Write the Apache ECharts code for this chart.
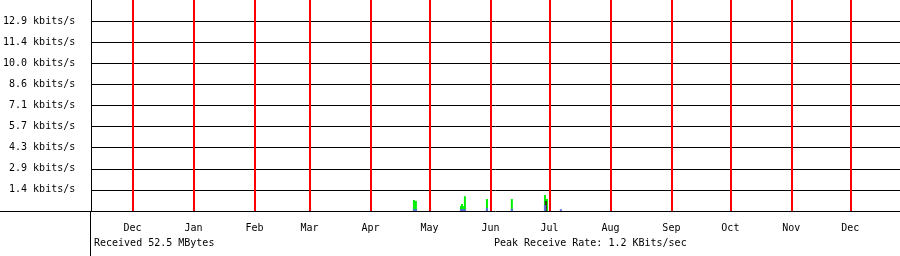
<!DOCTYPE html>
<html>
<head>
<meta charset="utf-8">
<script src="https://cdn.jsdelivr.net/npm/echarts@6/dist/echarts.min.js"></script>
<style>
html,body{margin:0;padding:0;background:#fff;}
#chart{width:900px;height:256px;}
</style>
</head>
<body>
<div id="chart"></div>
<script>
// ---- data ----
const monthLabels = ['Dec','Jan','Feb','Mar','Apr','May','Jun','Jul','Aug','Sep','Oct','Nov','Dec'];
const monthStarts = ['2009-12-01 00:00','2010-01-01 00:00','2010-02-01 00:00','2010-03-01 00:00','2010-04-01 00:00','2010-05-01 00:00','2010-06-01 00:00','2010-07-01 00:00','2010-08-01 00:00','2010-09-01 00:00','2010-10-01 00:00','2010-11-01 00:00','2010-12-01 00:00'];
const yTickLabels = ['1.4','2.9','4.3','5.7','7.1','8.6','10.0','11.4','12.9'];

const rxTimes  = ['2010-04-23 02:00','2010-04-24 02:00','2010-05-17 00:00','2010-05-17 12:00','2010-05-18 00:00','2010-05-19 00:00','2010-05-30 05:00','2010-06-11 21:00','2010-06-28 17:00','2010-06-29 17:00'];
const rxValues = [0.75, 0.68, 0.34, 0.47, 0.34, 1.00, 0.81, 0.81, 1.08, 0.81];

const txTimes  = ['2010-04-23 02:00','2010-04-24 02:00','2010-05-17 00:00','2010-05-17 12:00','2010-05-18 00:00','2010-05-19 00:00','2010-05-30 05:00','2010-06-11 21:00','2010-06-28 17:00','2010-07-06 19:00'];
const txValues = [0.12, 0.12, 0.12, 0.12, 0.12, 0.12, 0.20, 0.15, 0.40, 0.12];

const otherTimes  = ['2010-06-29 05:00'];
const otherValues = [0.68];

const footLeft  = 'Received 52.5 MBytes';
const footRight = 'Peak Receive Rate: 1.2 KBits/sec';

// ---- helpers ----
const t = s => new Date(s.replace(' ', 'T') + ':00Z').getTime();
const monthTimes = monthStarts.map(t);
const pairs = (ts, vs) => ts.map((s, i) => [t(s), vs[i]]);

const FONT = 'DejaVu Sans Mono';
const STEP = 10 / 7;

const chart = echarts.init(document.getElementById('chart'), null, {renderer: 'canvas'});
chart.setOption({
  animation: false,
  backgroundColor: '#ffffff',
  grid: {left: 90, right: 0, top: 0, bottom: 45, containLabel: false},
  xAxis: {
    type: 'value',
    min: t('2009-11-10 00:00'),
    max: t('2010-12-26 06:00'),
    axisLine: {show: true, lineStyle: {color: '#000', width: 1}},
    axisTick: {show: false, customValues: monthTimes},
    splitLine: {show: false},
    axisLabel: {
      customValues: monthTimes,
      formatter: v => {
        const i = monthTimes.indexOf(v);
        return i >= 0 ? monthLabels[i] : '';
      },
      color: '#000',
      fontFamily: FONT,
      fontSize: 10,
      margin: 12,
      hideOverlap: false
    }
  },
  yAxis: {
    type: 'value',
    min: 0,
    max: 100 / 7,
    interval: STEP,
    axisLine: {show: true, lineStyle: {color: '#000', width: 1}},
    axisTick: {show: false},
    splitLine: {show: true, showMinLine: false, showMaxLine: false, lineStyle: {color: '#000', width: 1}},
    axisLabel: {
      formatter: v => {
        const i = Math.round(v / STEP);
        return (i >= 1 && i <= yTickLabels.length) ? yTickLabels[i - 1] + ' kbits/s' : '';
      },
      color: '#000',
      fontFamily: FONT,
      fontSize: 10,
      margin: 16
    }
  },
  series: [
    {
      name: 'months',
      type: 'line',
      data: [],
      silent: true,
      markLine: {
        silent: true,
        symbol: ['none', 'none'],
        label: {show: false},
        lineStyle: {color: '#ff0000', width: 2, type: 'solid'},
        data: monthTimes.map(v => ({xAxis: v}))
      }
    },
    {
      name: 'in',
      type: 'bar',
      data: pairs(rxTimes, rxValues),
      barWidth: 2,
      barGap: '-100%',
      itemStyle: {color: '#00f000'}
    },
    {
      name: 'other',
      type: 'bar',
      data: pairs(otherTimes, otherValues),
      barWidth: 2,
      barGap: '-100%',
      itemStyle: {color: '#3a3a14'}
    },
    {
      name: 'out',
      type: 'bar',
      data: pairs(txTimes, txValues),
      barWidth: 2,
      barGap: '-100%',
      itemStyle: {color: '#5c6ce0'}
    }
  ],
  graphic: [
    {type: 'line', shape: {x1: 0, y1: 211.5, x2: 90, y2: 211.5}, style: {stroke: '#000', lineWidth: 1}, silent: true},
    {type: 'line', shape: {x1: 90.5, y1: 211, x2: 90.5, y2: 256}, style: {stroke: '#000', lineWidth: 1}, silent: true},
    {type: 'text', left: 94, top: 238, style: {text: footLeft, fill: '#000', font: '10px "' + FONT + '"'}, silent: true},
    {type: 'text', left: 494, top: 238, style: {text: footRight, fill: '#000', font: '10px "' + FONT + '"'}, silent: true}
  ]
});
</script>
</body>
</html>
